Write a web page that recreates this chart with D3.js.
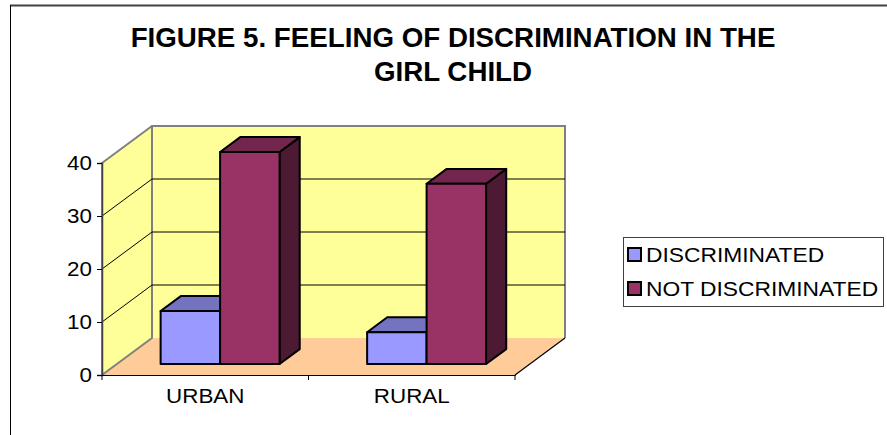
<!DOCTYPE html>
<html>
<head>
<meta charset="utf-8">
<script src="https://cdn.jsdelivr.net/npm/d3@7"></script>
<style>
html,body{margin:0;padding:0;background:#fff;}
svg{display:block;font-family:Arial,"Liberation Sans",sans-serif;}
</style>
</head>
<body>
<svg id="chart" width="887" height="435"></svg>
<script>
const categories = ["URBAN", "RURAL"];
const seriesNames = ["DISCRIMINATED", "NOT DISCRIMINATED"];
const discriminated = [10, 6];
const notDiscriminated = [40, 34];
const yTicks = [0, 10, 20, 30, 40];
const titleLines = ["FIGURE 5. FEELING OF DISCRIMINATION IN THE", "GIRL CHILD"];

const seriesValues = [discriminated, notDiscriminated];
const colors = [
  {front: "#9999FF", top: "#7373C0", side: "#4D4D80"},
  {front: "#993366", top: "#73264D", side: "#4D1A33"}
];

const svg = d3.select("#chart");

// Frame
svg.append("line").attr("x1", 10).attr("x2", 887).attr("y1", 5.5).attr("y2", 5.5)
  .attr("stroke", "#404040").attr("stroke-width", 2);
svg.append("line").attr("x1", 10.5).attr("x2", 10.5).attr("y1", 5).attr("y2", 435)
  .attr("stroke", "#000").attr("stroke-width", 1);

// Title
svg.append("g").selectAll("text").data(titleLines).join("text")
  .attr("transform", (d, i) => `translate(453,${47 + i * 34}) scale(0.99,1)`)
  .attr("text-anchor", "middle").attr("font-weight", "bold").attr("font-size", 28)
  .attr("fill", "#000").text(d => d);

// Scales
const x = d3.scaleBand().domain(categories).range([102, 515]).padding(0);
const y = d3.scaleLinear().domain([0, 40]).range([375, 163]);
const depthDX = 50, depthDY = -37;
const P = (px, py, z) => [px + depthDX * z, py + depthDY * z];
const line = d3.line();

const y0 = y(0), yMax = y(40);
const xL = x.range()[0], xR = x.range()[1];

// Floor
svg.append("path").attr("d", line([P(xL, y0, 0), P(xR, y0, 0), P(xR, y0, 1), P(xL, y0, 1)]) + "Z")
  .attr("fill", "#FFCC99").attr("stroke", "none");
// Left wall
svg.append("path").attr("d", line([P(xL, y0, 0), P(xL, yMax, 0), P(xL, yMax, 1), P(xL, y0, 1)]) + "Z")
  .attr("fill", "#FFFF99").attr("stroke", "#808080").attr("stroke-width", 2).attr("stroke-linejoin", "round");
// Back wall
svg.append("path").attr("d", line([P(xL, y0, 1), P(xL, yMax, 1), P(xR, yMax, 1), P(xR, y0, 1)]) + "Z")
  .attr("fill", "#FFFF99").attr("stroke", "none");
svg.append("path").attr("d", line([P(xL, y0, 1), P(xL, yMax, 1), P(xR, yMax, 1), P(xR, y0, 1)]))
  .attr("fill", "none").attr("stroke", "#808080").attr("stroke-width", 2);

// Gridlines
const gridVals = yTicks.filter(v => v > 0 && v < 40);
svg.append("g").selectAll("path").data(gridVals).join("path")
  .attr("d", v => line([P(xL, y(v), 0), P(xL, y(v), 1), P(xR, y(v), 1)]))
  .attr("fill", "none").attr("stroke", "#000").attr("stroke-width", 1);

// Floor right edge
svg.append("path").attr("d", line([P(xR, y0, 0), P(xR, y0, 1)]))
  .attr("stroke", "#000").attr("stroke-width", 1.2);

// Bars
const bw = x.bandwidth();
const xs = d3.scaleBand().domain(seriesNames).range([bw * 0.212, bw * 0.788]).padding(0);
const z0 = 0.297, z1 = 0.70;
const barG = svg.append("g");
categories.forEach((cat, ci) => {
  seriesNames.forEach((s, si) => {
    const v = seriesValues[si][ci];
    const bx0 = x(cat) + xs(s), bx1 = bx0 + xs.bandwidth();
    const by0 = y(0), by1 = y(v);
    const c = colors[si];
    const g = barG.append("g").attr("stroke", "#000").attr("stroke-width", 2).attr("stroke-linejoin", "round");
    g.append("path").attr("d", line([P(bx1, by0, z0), P(bx1, by1, z0), P(bx1, by1, z1), P(bx1, by0, z1)]) + "Z")
      .attr("fill", c.side);
    g.append("path").attr("d", line([P(bx0, by1, z0), P(bx0, by1, z1), P(bx1, by1, z1), P(bx1, by1, z0)]) + "Z")
      .attr("fill", c.top);
    g.append("path").attr("d", line([P(bx0, by0, z0), P(bx0, by1, z0), P(bx1, by1, z0), P(bx1, by0, z0)]) + "Z")
      .attr("fill", c.front);
  });
});

// Y axis
const yAxisG = svg.append("g").attr("transform", `translate(${xL},0)`)
  .call(d3.axisLeft(y).tickValues(yTicks).tickSize(5).tickPadding(4).tickFormat(d3.format("d")));
yAxisG.select(".domain").attr("stroke", "#404040").attr("stroke-width", 1.5);
yAxisG.selectAll(".tick line").attr("stroke", "#000");
yAxisG.selectAll("text").attr("font-size", 20).attr("fill", "#000")
  .attr("transform", "scale(1.12,1)")
  .attr("font-family", "Arial, 'Liberation Sans', sans-serif");

// X axis
const xAxisG = svg.append("g").attr("transform", `translate(0,${y0})`)
  .call(d3.axisBottom(x).tickSize(0).tickPadding(14));
xAxisG.select(".domain").attr("stroke", "#000").attr("stroke-width", 1.2);
xAxisG.selectAll("text").attr("font-size", 20).attr("fill", "#000")
  .attr("transform", "scale(1.12,1)")
  .attr("font-family", "Arial, 'Liberation Sans', sans-serif");
const bounds = categories.map(c => x(c)).concat([xR]);
svg.append("g").selectAll("line").data(bounds).join("line")
  .attr("x1", d => d).attr("x2", d => d).attr("y1", y0).attr("y2", y0 + 5)
  .attr("stroke", "#000").attr("stroke-width", 1);

// Legend
const leg = svg.append("g");
leg.append("rect").attr("x", 623.5).attr("y", 237.5).attr("width", 260).attr("height", 69)
  .attr("fill", "#fff").attr("stroke", "#404040").attr("stroke-width", 1);
const items = leg.selectAll("g.item").data(seriesNames).join("g").attr("class", "item")
  .attr("transform", (d, i) => `translate(628,${248 + i * 34})`);
items.append("rect").attr("width", 13).attr("height", 13)
  .attr("fill", (d, i) => colors[i].front).attr("stroke", "#000").attr("stroke-width", 2);
items.append("text").attr("transform", "translate(18,14) scale(1.14,1)")
  .attr("font-size", 20).attr("fill", "#000").text(d => d);
</script>
</body>
</html>
